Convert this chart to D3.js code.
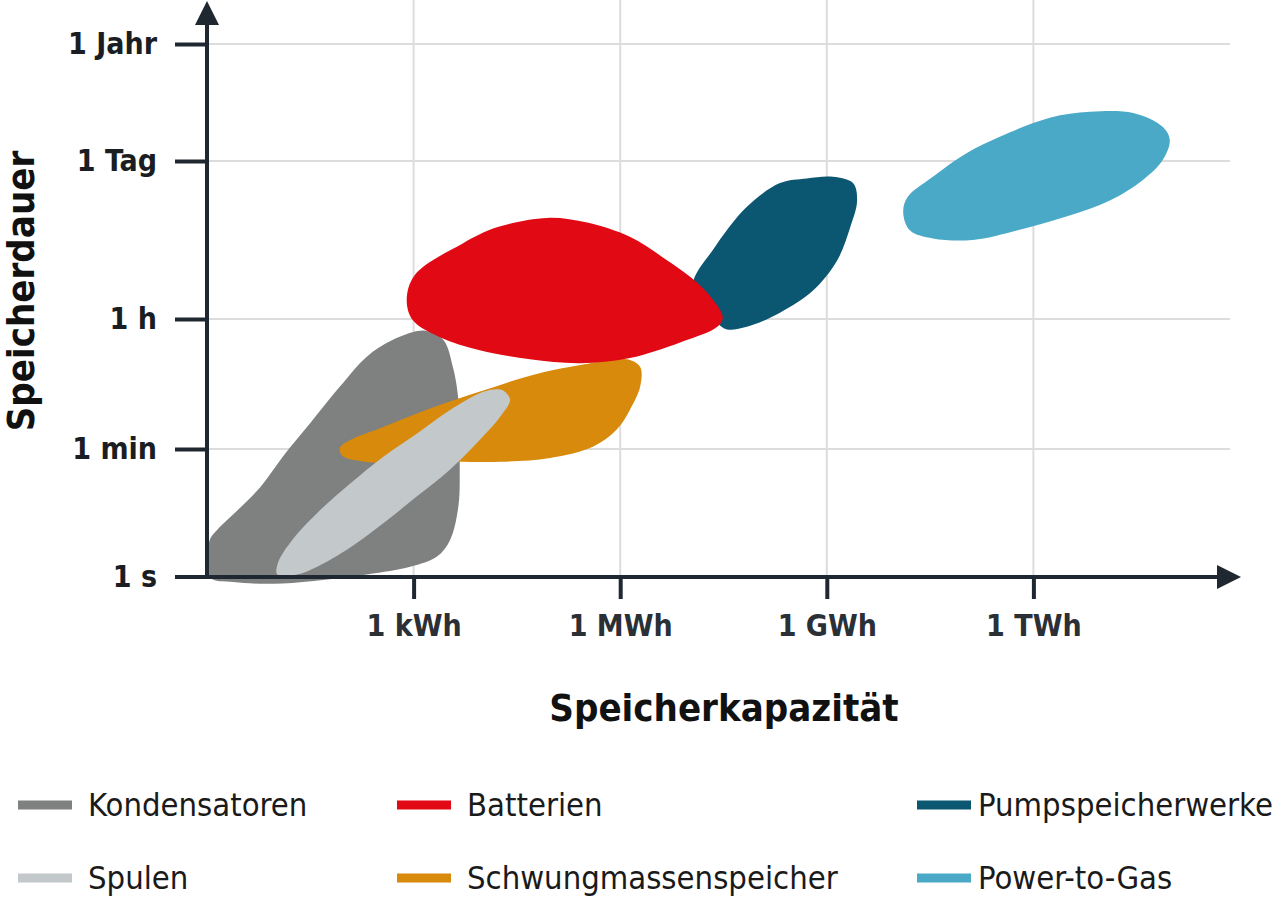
<!DOCTYPE html>
<html lang="de">
<head>
<meta charset="UTF-8">
<title>Speicherkapazität vs. Speicherdauer</title>
<script src="https://d3js.org/d3.v7.min.js"></script>
<style>
  html, body { margin: 0; padding: 0; background: #fff; }
  svg { display: block; }
  text { font-family: "Liberation Sans Narrow", "DejaVu Sans Condensed", "Noto Sans", sans-serif; }
</style>
</head>
<body>
<div id="chart"></div>
<script>
// x: log10 of capacity in Wh, y: position in steps of the duration ticks
const xTickValues = [3, 6, 9, 12];
const xTickLabels = ["1 kWh", "1 MWh", "1 GWh", "1 TWh"];
const yTickValues = [0, 1, 2, 3, 4];
const yTickLabels = ["1 s", "1 min", "1 h", "1 Tag", "1 Jahr"];

const categories = ["Kondensatoren", "Spulen", "Batterien", "Schwungmassenspeicher", "Pumpspeicherwerke", "Power-to-Gas"];

// outlines of each technology region, [capacity, duration]
const kondensatoren = [[3.17,1.91],[3.43,1.84],[3.57,1.63],[3.65,1.38],[3.67,0.86],[3.65,0.55],[3.53,0.29],[3.34,0.16],
  [2.95,0.08],[2.32,0.02],[1.10,-0.05],[0.38,-0.04],[0.04,0],[0.04,0.29],[0.15,0.37],[0.44,0.52],[0.77,0.70],
  [1.10,0.94],[1.50,1.20],[1.93,1.48],[2.32,1.71],[2.70,1.84]];
const spulen = [[4.30,1.45],[4.40,1.38],[4.26,1.25],[3.96,1.07],[3.53,0.84],[3.05,0.63],[2.56,0.42],[2.08,0.23],
  [1.60,0.08],[1.31,0.02],[1.02,0.02],[1.03,0.11],[1.21,0.27],[1.60,0.50],[2.08,0.73],[2.56,0.94],[3.05,1.12],
  [3.53,1.30],[4.01,1.44],[4.21,1.46]];
const schwungmassen = [[1.93,1.01],[2.08,1.07],[2.56,1.17],[3.28,1.32],[4.01,1.45],[4.73,1.57],[5.46,1.65],[6.10,1.69],
  [6.29,1.63],[6.29,1.48],[6.14,1.30],[5.95,1.15],[5.61,1.02],[4.98,0.93],[4.26,0.90],[3.53,0.90],[2.56,0.89],
  [2.18,0.91],[1.96,0.95]];
const batterien = [[2.90,2.12],[3.02,2.28],[3.72,2.48],[4.21,2.58],[4.94,2.64],[5.52,2.61],[6.14,2.52],
  [6.62,2.39],[7.12,2.23],[7.35,2.12],[7.49,2.01],[7.41,1.94],[6.87,1.82],[6.14,1.70],[5.42,1.66],[4.69,1.69],
  [3.96,1.76],[3.38,1.86],[2.99,1.99]];
const pumpspeicher = [[9.09,2.90],[9.38,2.86],[9.44,2.75],[9.34,2.58],[9.15,2.37],[8.80,2.18],[8.32,2.04],[7.84,1.94],
  [7.55,1.92],[7.41,1.97],[7.16,2.12],[7.06,2.23],[7.35,2.44],[7.84,2.71],[8.32,2.86],[8.71,2.89]];
const powerToGas = [[10.11,2.67],[10.17,2.77],[10.54,2.90],[11.04,3.07],[11.52,3.21],[12.24,3.37],[12.82,3.42],
  [13.45,3.41],[13.88,3.29],[13.98,3.18],[13.88,3.01],[13.59,2.88],[13.11,2.75],[12.49,2.65],[11.76,2.56],
  [11.12,2.50],[10.54,2.51],[10.21,2.56]];

const colors = {
  "Kondensatoren": "#7f8080",
  "Spulen": "#c3c8cb",
  "Batterien": "#e10914",
  "Schwungmassenspeicher": "#d88a0c",
  "Pumpspeicherwerke": "#0b5670",
  "Power-to-Gas": "#4aa9c6"
};

// drawing order (later on top)
const layers = [
  ["Kondensatoren", kondensatoren],
  ["Schwungmassenspeicher", schwungmassen],
  ["Spulen", spulen],
  ["Pumpspeicherwerke", pumpspeicher],
  ["Batterien", batterien],
  ["Power-to-Gas", powerToGas]
];

const W = 1280, H = 897;
const axisColor = "#1f2731";
const x0 = 207, y0 = 577;

const x = d3.scaleLinear().domain([0, 15]).range([x0, 1240]);
const y = d3.scaleLinear().domain(yTickValues).range([577, 449, 319, 161, 44]);

const svg = d3.select("#chart").append("svg")
  .attr("width", W)
  .attr("height", H);

// grid
svg.append("g").selectAll("line")
  .data(yTickValues.slice(1))
  .enter().append("line")
  .attr("x1", x0).attr("x2", 1230)
  .attr("y1", d => y(d)).attr("y2", d => y(d))
  .attr("stroke", "#dcdcdc").attr("stroke-width", 2);

svg.append("g").selectAll("line")
  .data(xTickValues)
  .enter().append("line")
  .attr("x1", d => x(d)).attr("x2", d => x(d))
  .attr("y1", 0).attr("y2", y0)
  .attr("stroke", "#dcdcdc").attr("stroke-width", 2);

// regions
const blob = d3.line()
  .x(d => x(d[0]))
  .y(d => y(d[1]))
  .curve(d3.curveCatmullRomClosed.alpha(0.5));

svg.append("g").selectAll("path")
  .data(layers)
  .enter().append("path")
  .attr("d", d => blob(d[1]))
  .attr("fill", d => colors[d[0]]);

// axes
const xAxis = d3.axisBottom(x)
  .tickValues(xTickValues)
  .tickFormat((d, i) => xTickLabels[i])
  .tickSize(22)
  .tickPadding(16);

const gx = svg.append("g")
  .attr("transform", `translate(0,${y0})`)
  .call(xAxis);
gx.select(".domain").remove();
gx.selectAll(".tick line").attr("stroke", axisColor).attr("stroke-width", 4);
gx.selectAll(".tick text")
  .attr("fill", "#2b2f36")
  .attr("font-size", 30)
  .attr("font-weight", "bold");

const yAxis = d3.axisLeft(y)
  .tickValues(yTickValues.slice(1))
  .tickFormat((d, i) => yTickLabels[i + 1])
  .tickSize(32)
  .tickPadding(18);

const gy = svg.append("g")
  .attr("transform", `translate(${x0},0)`)
  .call(yAxis);
gy.select(".domain").remove();
gy.selectAll(".tick line").attr("stroke", axisColor).attr("stroke-width", 4);
gy.selectAll(".tick text")
  .attr("fill", "#1a1d22")
  .attr("font-size", 30)
  .attr("font-weight", "bold");

// "1 s" label sits on the x axis line
svg.append("text")
  .attr("x", 175 - 18).attr("y", y(0))
  .attr("dy", "0.32em")
  .attr("text-anchor", "end")
  .attr("font-size", 30).attr("font-weight", "bold")
  .attr("fill", "#1a1d22")
  .text(yTickLabels[0]);

// axis lines with arrowheads
svg.append("line")
  .attr("x1", x0).attr("x2", x0)
  .attr("y1", y0 + 2).attr("y2", 22)
  .attr("stroke", axisColor).attr("stroke-width", 4);
svg.append("path")
  .attr("d", `M${x0},1 L${x0 - 12},25 L${x0 + 12},25 Z`)
  .attr("fill", axisColor);

svg.append("line")
  .attr("x1", 175).attr("x2", 1222)
  .attr("y1", y0).attr("y2", y0)
  .attr("stroke", axisColor).attr("stroke-width", 4);
svg.append("path")
  .attr("d", `M1241,${y0} L1217,${y0 - 12} L1217,${y0 + 12} Z`)
  .attr("fill", axisColor);

// axis titles
svg.append("text")
  .attr("x", 724).attr("y", 708)
  .attr("dy", "0.35em")
  .attr("text-anchor", "middle")
  .attr("font-size", 38).attr("font-weight", "bold")
  .attr("fill", "#111")
  .text("Speicherkapazität");

svg.append("text")
  .attr("transform", "translate(21,291) rotate(-90)")
  .attr("dy", "0.35em")
  .attr("text-anchor", "middle")
  .attr("font-size", 38).attr("font-weight", "bold")
  .attr("fill", "#111")
  .text("Speicherdauer");

// legend
const legendCols = [18, 397, 917];
const legendRows = [805, 878];
const legendOrder = [
  ["Kondensatoren", 0, 0], ["Spulen", 0, 1],
  ["Batterien", 1, 0], ["Schwungmassenspeicher", 1, 1],
  ["Pumpspeicherwerke", 2, 0], ["Power-to-Gas", 2, 1]
];

const legend = svg.append("g").selectAll("g")
  .data(legendOrder)
  .enter().append("g")
  .attr("transform", d => `translate(${legendCols[d[1]]},${legendRows[d[2]]})`);

legend.append("line")
  .attr("x1", 0).attr("x2", 54)
  .attr("y1", 0).attr("y2", 0)
  .attr("stroke", d => colors[d[0]])
  .attr("stroke-width", 9);

legend.append("text")
  .attr("x", d => d[1] === 2 ? 61 : 70)
  .attr("dy", "0.35em")
  .attr("font-size", 32.5)
  .attr("fill", "#1a1a1a")
  .text(d => d[0]);
</script>
</body>
</html>
